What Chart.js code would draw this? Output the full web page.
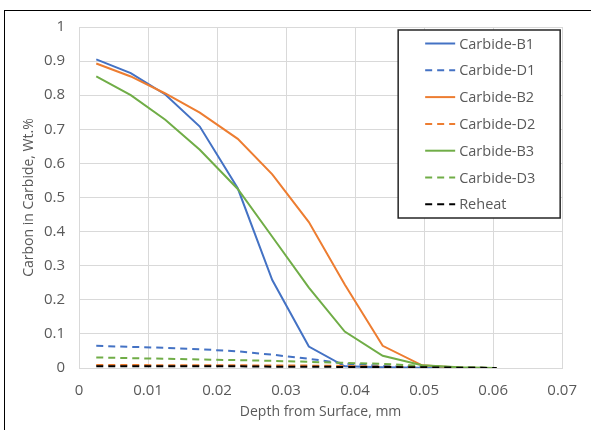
<!DOCTYPE html>
<html>
<head>
<meta charset="utf-8">
<script src="https://cdn.jsdelivr.net/npm/chart.js@4.4.1/dist/chart.umd.min.js"></script>
<style>
  body { margin: 0; background: #fff; }
  #frame { position: absolute; left: 4px; top: 10px; width: 591px; height: 430px;
           border-left: 1.5px solid #000; border-top: 1.5px solid #000; }
  #wrap { position: absolute; left: 0; top: 0; width: 591px; height: 430px; }
</style>
</head>
<body>
<div id="frame"></div>
<div id="wrap"><canvas id="carbideChart" width="591" height="430"></canvas></div>
<script>
// depth from surface, mm
const depth = [0.0025, 0.0075, 0.0125, 0.0175, 0.023, 0.028, 0.0333, 0.0385, 0.044, 0.0497, 0.055, 0.0605];

const carbideB1 = [0.905, 0.865, 0.802, 0.708, 0.527, 0.258, 0.063, 0.005, 0.002, 0.001, 0, 0];
const carbideD1 = [0.065, 0.062, 0.059, 0.055, 0.049, 0.039, 0.027, 0.013, 0.006, 0.002, 0.001, 0];
const carbideB2 = [0.893, 0.855, 0.805, 0.749, 0.672, 0.568, 0.428, 0.245, 0.065, 0.008, 0.001, 0];
const carbideD2 = [0.009, 0.009, 0.008, 0.008, 0.008, 0.007, 0.007, 0.006, 0.004, 0.002, 0.001, 0];
const carbideB3 = [0.855, 0.8, 0.728, 0.64, 0.525, 0.385, 0.236, 0.107, 0.036, 0.008, 0.002, 0];
const carbideD3 = [0.031, 0.029, 0.027, 0.025, 0.023, 0.021, 0.018, 0.015, 0.012, 0.006, 0.002, 0];
const reheat    = [0.005, 0.005, 0.005, 0.005, 0.005, 0.004, 0.004, 0.003, 0.003, 0.002, 0.001, 0];

const xTicks = [0, 0.01, 0.02, 0.03, 0.04, 0.05, 0.06, 0.07];
const xTickLabels = ["0", "0.01", "0.02", "0.03", "0.04", "0.05", "0.06", "0.07"];
const yTicks = [0, 0.1, 0.2, 0.3, 0.4, 0.5, 0.6, 0.7, 0.8, 0.9, 1];
const yTickLabels = ["0", "0.1", "0.2", "0.3", "0.4", "0.5", "0.6", "0.7", "0.8", "0.9", "1"];

const BLUE = "#4472C4", ORANGE = "#ED7D31", GREEN = "#70AD47", BLACK = "#000000";
const DASH = [7, 5];
const TEXT = "#595959";
const FONT = "'Open Sans', sans-serif";

function series(label, values, color, dashed, order) {
    return {
        label: label,
        data: depth.map((d, i) => ({ x: d, y: values[i] })),
        borderColor: color,
        backgroundColor: color,
        borderWidth: 2,
        borderDash: dashed ? DASH : [],
        pointRadius: 0,
        tension: 0,
        fill: false,
        order: order,
    };
}

// legend drawn as a boxed list inside the plot, like the spreadsheet one
const boxLegend = {
    id: "boxLegend",
    afterDraw(chart) {
        const ctx = chart.ctx;
        const area = chart.chartArea;
        const x0 = area.right - 164, y0 = area.top + 3, w = 162, h = 188;
        ctx.save();
        ctx.fillStyle = "#fff";
        ctx.fillRect(x0, y0, w, h);
        ctx.strokeStyle = "#262626";
        ctx.lineWidth = 1.5;
        ctx.strokeRect(x0, y0, w, h);
        ctx.font = "14.5px " + FONT;
        ctx.textBaseline = "middle";
        chart.data.datasets.forEach((ds, i) => {
            const y = y0 + 13.5 + i * 26.8;
            ctx.beginPath();
            ctx.strokeStyle = ds.borderColor;
            ctx.lineWidth = 2;
            ctx.setLineDash(ds.borderDash);
            ctx.moveTo(x0 + 27, y);
            ctx.lineTo(x0 + 57, y);
            ctx.stroke();
            ctx.setLineDash([]);
            ctx.fillStyle = TEXT;
            ctx.fillText(ds.label, x0 + 61, y + 1);
        });
        ctx.restore();
    }
};

const ctx = document.getElementById("carbideChart").getContext("2d");
new Chart(ctx, {
    type: "line",
    data: {
        datasets: [
            series("Carbide-B1", carbideB1, BLUE, false, 7),
            series("Carbide-D1", carbideD1, BLUE, true, 6),
            series("Carbide-B2", carbideB2, ORANGE, false, 5),
            series("Carbide-D2", carbideD2, ORANGE, true, 4),
            series("Carbide-B3", carbideB3, GREEN, false, 3),
            series("Carbide-D3", carbideD3, GREEN, true, 2),
            series("Reheat", reheat, BLACK, true, 1),
        ],
    },
    options: {
        responsive: false,
        animation: false,
        layout: { padding: { left: 0, top: 27, right: 22, bottom: 0 } },
        plugins: { legend: { display: false }, tooltip: { enabled: false } },
        scales: {
            x: {
                type: "linear",
                min: 0,
                max: 0.07,
                afterBuildTicks: axis => { axis.ticks = xTicks.map(v => ({ value: v })); },
                afterFit: axis => { axis.height = 62; },
                grid: { color: "#d9d9d9", lineWidth: 1, drawTicks: false },
                border: { color: "#d9d9d9" },
                ticks: {
                    color: TEXT, font: { family: FONT, size: 15 }, padding: 14, maxRotation: 0,
                    callback: (v, i) => xTickLabels[i],
                },
                title: {
                    display: true,
                    text: "Depth from Surface, mm",
                    color: TEXT,
                    font: { family: FONT, size: 14 },
                    padding: { top: 0, bottom: 10 },
                },
            },
            y: {
                min: 0,
                max: 1,
                afterBuildTicks: axis => { axis.ticks = yTicks.map(v => ({ value: v })); },
                afterFit: axis => { axis.width = 79; },
                grid: { color: "#d9d9d9", lineWidth: 1, drawTicks: false },
                border: { color: "#d9d9d9" },
                ticks: {
                    color: TEXT, font: { family: FONT, size: 15 }, padding: 14,
                    callback: (v, i) => yTickLabels[i],
                },
                title: {
                    display: true,
                    text: "Carbon in Carbide, Wt.%",
                    color: TEXT,
                    font: { family: FONT, size: 14 },
                    padding: { top: 21, bottom: 0 },
                },
            },
        },
    },
    plugins: [boxLegend],
});
</script>
</body>
</html>
